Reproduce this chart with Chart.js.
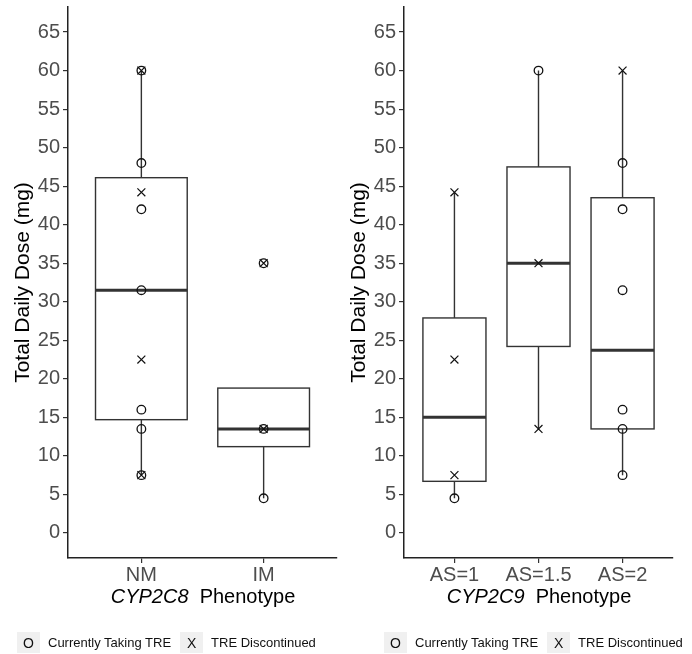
<!DOCTYPE html>
<html>
<head>
<meta charset="utf-8">
<script src="https://cdn.jsdelivr.net/npm/chart.js@4"></script>
<style>
  body { margin: 0; background: #fff; font-family: "Liberation Sans", Arial, sans-serif; }
  #wrap { position: relative; width: 692px; height: 654px; overflow: hidden; }
  .panel { position: absolute; top: 0; height: 654px; }
  .xtitle { position: absolute; top: 585px; font-size: 20px; color: #000; white-space: pre; transform: translateX(-50%); }
  .legend { position: absolute; top: 632px; display: flex; align-items: center; font-size: 13px; color: #111; }
  .key { width: 23px; height: 21px; background: #f0f0f0; display: flex; align-items: center; justify-content: center; font-size: 14px; margin-right: 8px; }
  .lab { margin-right: 9px; }
</style>
</head>
<body>
<div id="wrap">
  <div class="panel" style="left:0;width:346px"><canvas id="left"></canvas></div>
  <div class="panel" style="left:336px;width:356px"><canvas id="right"></canvas></div>
  <div class="xtitle" style="left:203px"><i>CYP2C8</i>  Phenotype</div>
  <div class="xtitle" style="left:539px"><i>CYP2C9</i>  Phenotype</div>
  <div class="legend" style="left:17px">
    <div class="key">O</div><span class="lab">Currently Taking TRE</span>
    <div class="key">X</div><span>TRE Discontinued</span>
  </div>
  <div class="legend" style="left:384px">
    <div class="key">O</div><span class="lab">Currently Taking TRE</span>
    <div class="key">X</div><span>TRE Discontinued</span>
  </div>
</div>
<script>
const yTicks = [0, 5, 10, 15, 20, 25, 30, 35, 40, 45, 50, 55, 60, 65];

// CYP2C8 panel
const cyp2c8Cats = ["NM", "IM"];
const cyp2c8Lower = [7.5, 4.5];
const cyp2c8Q1 = [14.7, 11.2];
const cyp2c8Median = [31.5, 13.5];
const cyp2c8Q3 = [46.1, 18.8];
const cyp2c8Upper = [60, 18.8];
const cyp2c8Taking = [[60, 48, 42, 31.5, 16, 13.5, 7.5], [35, 13.5, 4.5]];
const cyp2c8Stopped = [[60, 44.2, 22.5, 7.5], [35, 13.5]];

// CYP2C9 panel
const cyp2c9Cats = ["AS=1", "AS=1.5", "AS=2"];
const cyp2c9Lower = [4.5, 13.5, 7.5];
const cyp2c9Q1 = [6.7, 24.2, 13.5];
const cyp2c9Median = [15, 35, 23.7];
const cyp2c9Q3 = [27.9, 47.5, 43.5];
const cyp2c9Upper = [44.2, 60, 60];
const cyp2c9Taking = [[4.5], [60], [48, 42, 31.5, 16, 13.5, 7.5]];
const cyp2c9Stopped = [[44.2, 22.5, 7.5], [35, 13.5], [60]];

const FONT = "'Liberation Sans', Arial, sans-serif";

function toPoints(groups) {
  const pts = [];
  groups.forEach((vals, i) => vals.forEach(v => pts.push({ x: i + 1, y: v })));
  return pts;
}

const boxPlot = {
  id: "boxPlot",
  beforeDatasetsDraw(chart, args, opts) {
    const { ctx } = chart;
    const xs = chart.scales.x;
    const ys = chart.scales.y;
    ctx.save();
    ctx.strokeStyle = "#333333";
    opts.q1.forEach((q1, i) => {
      const cx = xs.getPixelForValue(i + 1);
      const half = xs.getPixelForValue(i + 1 + 0.375) - cx;
      const yLo = ys.getPixelForValue(opts.lower[i]);
      const yQ1 = ys.getPixelForValue(q1);
      const yMed = ys.getPixelForValue(opts.median[i]);
      const yQ3 = ys.getPixelForValue(opts.q3[i]);
      const yHi = ys.getPixelForValue(opts.upper[i]);
      ctx.lineWidth = 1.4;
      ctx.beginPath();
      ctx.moveTo(cx, yLo); ctx.lineTo(cx, yQ1);
      ctx.moveTo(cx, yQ3); ctx.lineTo(cx, yHi);
      ctx.stroke();
      ctx.fillStyle = "#ffffff";
      ctx.fillRect(cx - half, yQ3, half * 2, yQ1 - yQ3);
      ctx.strokeRect(cx - half, yQ3, half * 2, yQ1 - yQ3);
      ctx.lineWidth = 3;
      ctx.beginPath();
      ctx.moveTo(cx - half, yMed); ctx.lineTo(cx + half, yMed);
      ctx.stroke();
    });
    ctx.restore();
  }
};

function noPad(s) {
  s.paddingTop = 0;
  s.paddingBottom = 0;
  s.paddingLeft = 0;
  s.paddingRight = 0;
}

function makeChart(id, cats, lower, q1, median, q3, upper, taking, stopped) {
  new Chart(document.getElementById(id), {
    type: "scatter",
    data: {
      datasets: [
        {
          label: "Currently Taking TRE",
          data: toPoints(taking),
          pointStyle: "circle",
          pointRadius: 4.3,
          borderColor: "#111",
          backgroundColor: "rgba(0,0,0,0)",
          borderWidth: 1.3,
        },
        {
          label: "TRE Discontinued",
          data: toPoints(stopped),
          pointStyle: "crossRot",
          pointRadius: 5.6,
          borderColor: "#111",
          borderWidth: 1.2,
        },
      ],
    },
    options: {
      responsive: true,
      maintainAspectRatio: false,
      animation: false,
      events: [],
      layout: { padding: { top: 7, right: id === "left" ? 9 : 19, left: 0, bottom: 0 } },
      scales: {
        x: {
          type: "linear",
          min: 0.4,
          max: cats.length + 0.6,
          afterBuildTicks: s => { s.ticks = cats.map((c, i) => ({ value: i + 1 })); },
          afterFit: s => { s.height = 96; noPad(s); },
          ticks: {
            color: "#4d4d4d",
            padding: 0,
            font: { family: FONT, size: 20 },
            callback: v => cats[v - 1],
          },
          grid: { display: true, drawOnChartArea: false, drawTicks: true, tickLength: 5, color: "#333", lineWidth: 1.2 },
          border: { display: true, color: "#222", width: 1.5 },
        },
        y: {
          min: -3.25,
          max: 68.25,
          afterBuildTicks: s => { s.ticks = yTicks.map(v => ({ value: v })); },
          afterFit: s => { s.width = 68; noPad(s); },
          ticks: {
            color: "#4d4d4d",
            padding: 3,
            font: { family: FONT, size: 20 },
          },
          grid: { display: true, drawOnChartArea: false, drawTicks: true, tickLength: 5, color: "#333", lineWidth: 1.2 },
          border: { display: true, color: "#222", width: 1.5 },
          title: {
            display: true,
            text: "Total Daily Dose (mg)",
            color: "#000",
            font: { family: FONT, size: 21 },
            padding: { top: 11, bottom: 0 },
          },
        },
      },
      plugins: {
        legend: { display: false },
        tooltip: { enabled: false },
        boxPlot: { lower, q1, median, q3, upper },
      },
    },
    plugins: [boxPlot],
  });
}

makeChart("left", cyp2c8Cats, cyp2c8Lower, cyp2c8Q1, cyp2c8Median, cyp2c8Q3, cyp2c8Upper, cyp2c8Taking, cyp2c8Stopped);
makeChart("right", cyp2c9Cats, cyp2c9Lower, cyp2c9Q1, cyp2c9Median, cyp2c9Q3, cyp2c9Upper, cyp2c9Taking, cyp2c9Stopped);
</script>
</body>
</html>
